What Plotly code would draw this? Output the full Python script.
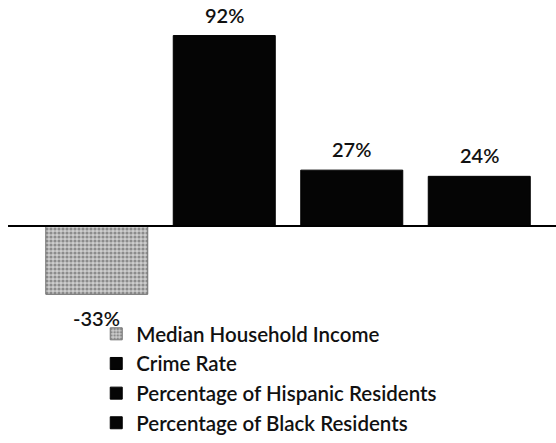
import plotly.graph_objects as go

# Percentage change by measure
categories = ["Median Household Income", "Crime Rate",
              "Percentage of Hispanic Residents", "Percentage of Black Residents"]
values = [-33, 92, 27, 24]
labels = ["-33%", "92%", "27%", "24%"]

FONT = "Lato, 'Open Sans', sans-serif"

fig = go.Figure()

for i, (cat, val) in enumerate(zip(categories, values)):
    if i == 0:
        marker = dict(
            color="#c4c4c4",
            line=dict(color="#707070", width=1),
            pattern=dict(shape=".", fgcolor="#4a4a4a", bgcolor="#cdcdcd",
                         size=4, solidity=0.5),
        )
    else:
        marker = dict(color="#050505", line=dict(color="#000000", width=1))
    fig.add_trace(go.Bar(x=[i], y=[val], name=cat, marker=marker,
                         width=0.8, hoverinfo="skip"))

# Value labels above positive bars and below the negative one
for i, (val, lab) in enumerate(zip(values, labels)):
    fig.add_annotation(
        x=i, y=val, text=lab, showarrow=False,
        xanchor="center",
        yanchor="bottom" if val >= 0 else "top",
        yshift=7 if val >= 0 else -10,
        font=dict(family=FONT, size=20, color="#111111", weight=600),
    )

# Horizontal baseline at zero
fig.add_shape(type="line", xref="paper", yref="y",
              x0=-0.049, x1=1.03, y0=0, y1=0,
              line=dict(color="#000000", width=2))

fig.update_layout(
    width=556, height=443,
    margin=dict(l=33, r=13, t=19, b=0),
    paper_bgcolor="white", plot_bgcolor="white",
    barmode="overlay",
    showlegend=True,
    legend=dict(
        orientation="v", x=0.124, xanchor="left", y=0, yanchor="bottom",
        font=dict(family=FONT, size=20.5, color="#111111", weight=600),
        bgcolor="rgba(0,0,0,0)", traceorder="normal",
    ),
    xaxis=dict(range=[-0.5, 3.5], showgrid=False, zeroline=False,
               showticklabels=False, ticks="", showline=False),
    yaxis=dict(range=[-104.8, 100], showgrid=False, zeroline=False,
               showticklabels=False, ticks="", showline=False),
    font=dict(family=FONT),
)

fig.write_html("out.html")
